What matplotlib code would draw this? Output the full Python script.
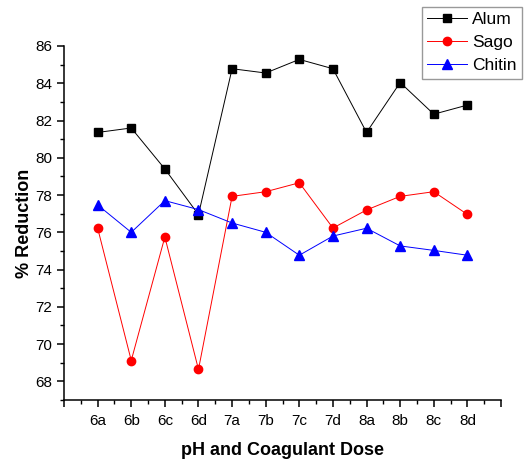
import matplotlib
matplotlib.use("Agg")
from matplotlib import pyplot as plt
from matplotlib.ticker import MultipleLocator, FixedLocator

plt.rcParams['font.family'] = ['Liberation Sans', 'DejaVu Sans']

doses = ["6a", "6b", "6c", "6d", "7a", "7b", "7c", "7d", "8a", "8b", "8c", "8d"]
alum = [81.36, 81.6, 79.4, 76.95, 84.78, 84.55, 85.28, 84.78, 81.36, 84.04, 82.34, 82.83]
sago = [76.23, 69.12, 75.75, 68.64, 77.93, 78.18, 78.66, 76.23, 77.2, 77.93, 78.18, 76.96]
chitin = [77.47, 76.0, 77.7, 77.22, 76.5, 76.0, 74.77, 75.8, 76.22, 75.27, 75.03, 74.77]

x = list(range(len(doses)))

fig = plt.figure(figsize=(5.26, 4.59), dpi=100)
ax = fig.add_axes([0.1217, 0.1285, 0.8308, 0.7713])

ax.plot(x, alum, color="black", marker="s", markersize=5.5, linewidth=0.7, label="Alum")
ax.plot(x, sago, color="red", marker="o", markersize=6, linewidth=0.7, label="Sago")
ax.plot(x, chitin, color="blue", marker="^", markersize=6.5, linewidth=0.7, label="Chitin")

ax.set_xlim(-1, 12)
ax.set_ylim(67, 86)
ax.xaxis.set_major_locator(FixedLocator(list(range(-1, 13))))
ax.set_xticklabels([""] + doses + [""])
ax.xaxis.set_minor_locator(MultipleLocator(0.5))
ax.yaxis.set_major_locator(MultipleLocator(2))
ax.yaxis.set_minor_locator(MultipleLocator(1))
ax.set_yticks(range(68, 87, 2))

ax.spines['top'].set_visible(False)
ax.spines['right'].set_visible(False)
ax.spines['left'].set_linewidth(1.1)
ax.spines['bottom'].set_linewidth(1.1)
ax.tick_params(which="major", direction="out", length=5, width=1.1, labelsize=11)
ax.tick_params(axis="x", which="major", pad=5)
ax.tick_params(which="minor", direction="out", length=3, width=1.0)

ax.set_xlabel("pH and Coagulant Dose", fontsize=13, fontweight="bold", labelpad=10)
ax.set_ylabel("% Reduction", fontsize=13, fontweight="bold", labelpad=1.5)

leg = ax.legend(loc="upper right", bbox_to_anchor=(522 / 526, 1 - 7 / 459),
                bbox_transform=fig.transFigure, fontsize=12.5, frameon=True,
                fancybox=False, borderpad=0.3, labelspacing=0.45,
                handlelength=2.3, handletextpad=0.3, borderaxespad=0)
leg.get_frame().set_edgecolor("gray")
leg.get_frame().set_linewidth(1.0)

fig.savefig("out.png", dpi=100)
